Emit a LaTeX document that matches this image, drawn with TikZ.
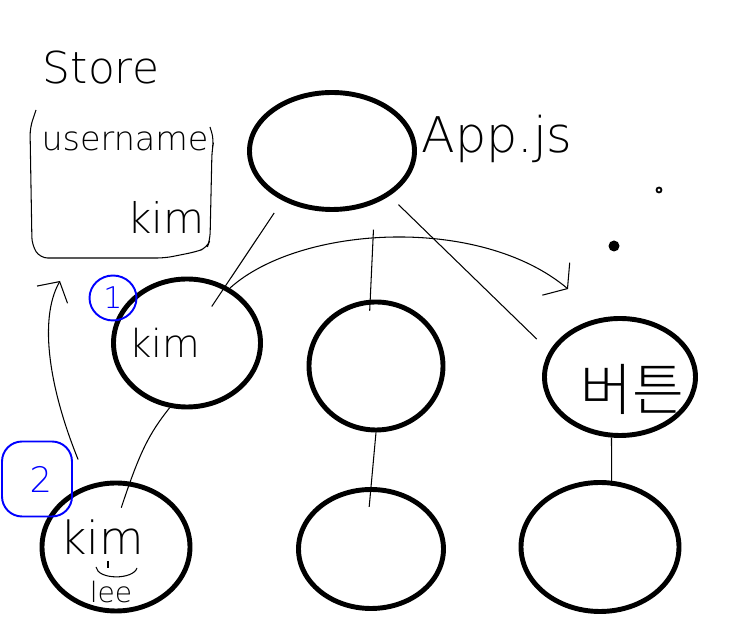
\documentclass[tikz,border=0pt]{standalone}
\usepackage{fontspec}
\IfFontExistsTF{DejaVu Sans ExtraLight}{\setmainfont{DejaVu Sans ExtraLight}}{\setmainfont{DejaVu Sans}}
\IfFontExistsTF{Noto Sans CJK KR Light}{\newfontfamily\krfont{Noto Sans CJK KR Light}}{\newfontfamily\krfont{Noto Sans CJK KR}}
\usetikzlibrary{arrows.meta, shapes.geometric, positioning}

\begin{document}
\begin{tikzpicture}[x=0.02cm, y=-0.02cm]
    \tikzset{
        comp/.style={draw, ellipse, line width=2.8pt, inner sep=0pt},
        link/.style={line width=0.6pt},
        badge/.style={draw=blue, line width=1.1pt, text=blue, inner sep=0pt},
        hand/.style={inner sep=0pt},
    }
    \useasboundingbox (0,0) rectangle (752,641);

    % Component tree
    \foreach \n/\pos/\w/\h in {app/{332,151}/165/117, kim/{187,343}/147/128, mid/{376,366}/134/128,
                               btn/{620,377}/151/117, leafa/{116,547}/148/128, leafb/{371,549}/145/119,
                               leafc/{600,547}/158/129} {
        \node[comp, minimum width=\w*0.02cm, minimum height=\h*0.02cm] (\n) at (\pos) {};
    }

    % Store box
    \draw[link, rounded corners=0.15cm] (36,110) -- (30,128) -- (32,245) -- (40,258) -- (165,258)
        -- (195,252) -- (207,248) -- (210,240) -- (212,150) -- (214,140) -- (210,127);
    \node[hand, font=\fontsize{25}{27}\selectfont] (storelbl) at (101,68) {Store};
    \node[hand, font=\fontsize{19}{21}\selectfont] (keylbl) at (125,141) {username};
    \node[hand, font=\fontsize{24}{26}\selectfont] (vallbl) at (166,217) {kim};

    % Labels
    \node[hand, anchor=base, font=\fontsize{28}{30}\selectfont] (applbl) at (497,153) {App.js};
    \node[hand, anchor=base, font=\fontsize{22}{24}\selectfont] (kimlbl) at (165,358) {kim};
    \node[hand, anchor=base, font=\fontsize{26}{28}\selectfont] (oldlbl) at (102,555) {kim};
    \node[hand, anchor=base, font=\fontsize{16}{18}\selectfont] (newlbl) at (111,603) {lee};
    \node[hand, font=\krfont\fontsize{32}{34}\selectfont] (btnlbl) at (632,389) {버튼};
    \draw[link] (108,561) -- (108,568);
    \draw[link] (96,567) .. controls (98,580) and (133,580) .. (137,568);

    % Badges and dots
    \node[badge, ellipse, minimum width=0.94cm, minimum height=0.9cm, font=\fontsize{17}{17}\selectfont] (one) at (113,298) {1};
    \node[badge, rounded corners=0.4cm, minimum width=1.4cm, minimum height=1.5cm, font=\fontsize{20}{20}\selectfont] (two) at (37,479) {\hspace{0.15cm}2};
    \node[draw, circle, line width=1pt, inner sep=0pt, minimum size=0.1cm] (dota) at (659,190) {};
    \node[fill, circle, inner sep=0pt, minimum size=0.22cm] (dotb) at (614,246) {};

    % Links
    \draw[link, shorten <=0.3cm, shorten >=-0.5cm] (app.225) -- (kim.56);
    \draw[link, shorten <=0.52cm, shorten >=-0.22cm] (app.-51) -- (mid.95);
    \draw[link, shorten <=0.25cm, shorten >=0.35cm] (app.-38) -- (btn.160);
    \draw[link, shorten >=-0.55cm] (kim.-105) to[bend right=10] (leafa.78);
    \draw[link, shorten >=-0.4cm] (mid.south) -- (leafb.north);
    \draw[link, shorten >=-0.1cm] (btn.-98) -- (leafc.80);

    % Data flow
    \coordinate (tip) at (568,289);
    \coordinate (storetip) at (60,281);
    \draw[link, -{Straight Barb[length=0.3cm, width=0.85cm]}] (kim.52) .. controls (300,225) and (480,215) .. (tip);
    \draw[link, shorten <=0.55cm, -{Straight Barb[length=0.3cm, width=0.7cm]}] (leafa.114) .. controls (50,390) and (38,320) .. (storetip);
\end{tikzpicture}
\end{document}
